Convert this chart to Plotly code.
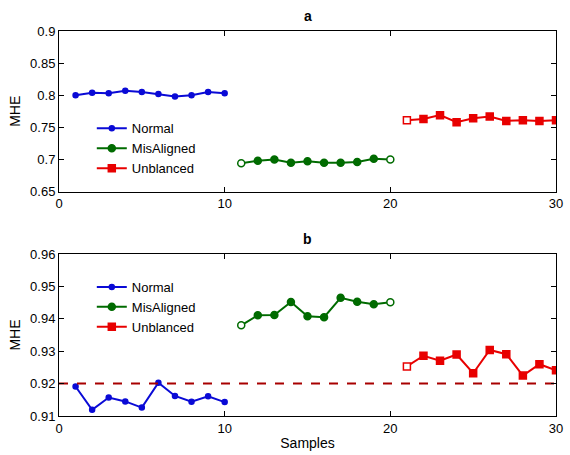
import plotly.graph_objects as go

# Sample indices for each condition
x_normal = list(range(1, 11))
x_mis = list(range(11, 21))
x_unb = list(range(21, 31))

# Panel a: MHE values
a_normal = [0.800, 0.804, 0.803, 0.807, 0.805, 0.802, 0.798, 0.800, 0.805, 0.803]
a_mis = [0.694, 0.698, 0.700, 0.695, 0.697, 0.695, 0.695, 0.696, 0.701, 0.700]
a_unb = [0.761, 0.763, 0.769, 0.758, 0.764, 0.767, 0.760, 0.761, 0.760, 0.761]

# Panel b: MHE values
b_normal = [0.9191, 0.9119, 0.9157, 0.9145, 0.9126, 0.9203, 0.9162, 0.9144, 0.9161, 0.9143]
b_mis = [0.9380, 0.9411, 0.9412, 0.9452, 0.9408, 0.9405, 0.9465, 0.9453, 0.9445, 0.9451]
b_unb = [0.9253, 0.9286, 0.9271, 0.9290, 0.9232, 0.9304, 0.9291, 0.9225, 0.9260, 0.9241]
threshold = 0.92

a_yticks = [0.65, 0.7, 0.75, 0.8, 0.85, 0.9]
a_yticktext = ["0.65", "0.7", "0.75", "0.8", "0.85", "0.9"]
b_yticks = [0.91, 0.92, 0.93, 0.94, 0.95, 0.96]
b_yticktext = ["0.91", "0.92", "0.93", "0.94", "0.95", "0.96"]
xticks = [0, 10, 20, 30]

names = ["Normal", "MisAligned", "Unblanced"]
BLUE = "#0a0ad6"
GREEN = "#006b00"
RED = "#e80000"
DARKRED = "#a80000"
FONT = "Liberation Sans, Arial, sans-serif"
LW = 2


def fills(color, n, hollow):
    return ["white" if i in hollow else color for i in range(n)]


styles = [
    (BLUE, dict(symbol="circle", size=5)),
    (GREEN, dict(symbol="circle", size=7)),
    (RED, dict(symbol="square", size=7)),
]

fig = go.Figure()

panels = [
    ("x", "y", "legend", a_normal, a_mis, a_unb),
    ("x2", "y2", "legend2", b_normal, b_mis, b_unb),
]
for xa, ya, leg, yn, ym, yu in panels:
    hollow_sets = [set(), {0, len(ym) - 1}, {0}]
    for (color, mk), xs, ys, hollow in zip(styles, [x_normal, x_mis, x_unb], [yn, ym, yu], hollow_sets):
        fig.add_trace(go.Scatter(
            x=xs, y=ys, mode="lines+markers", xaxis=xa, yaxis=ya, showlegend=False,
            line=dict(color=color, width=LW),
            marker=dict(**mk, color=fills(color, len(ys), hollow),
                        line=dict(color=color, width=1.5))))
    # Legend entries with solid markers
    for name, (color, mk) in zip(names, styles):
        fig.add_trace(go.Scatter(
            x=[None], y=[None], name=name, mode="lines+markers", xaxis=xa, yaxis=ya,
            legend=leg, line=dict(color=color, width=LW),
            marker=dict(**mk, color=color, line=dict(color=color, width=1.5))))

# Threshold line in panel b
fig.add_trace(go.Scatter(
    x=[0, 30], y=[threshold, threshold], mode="lines", xaxis="x2", yaxis="y2",
    showlegend=False, line=dict(color=DARKRED, width=2, dash="dash")))

axis_common = dict(
    showline=True, linecolor="black", linewidth=1, mirror="ticks",
    ticks="inside", ticklen=5, tickcolor="black", showgrid=False, zeroline=False,
    tickfont=dict(family=FONT, size=13, color="black"),
)

legend_common = dict(xanchor="left", yanchor="top", bgcolor="rgba(0,0,0,0)",
                     font=dict(size=13), tracegroupgap=0, itemwidth=30)

fig.update_layout(
    width=570, height=455,
    margin=dict(l=59, r=7, t=31, b=36),
    paper_bgcolor="white", plot_bgcolor="white",
    font=dict(family=FONT, size=13, color="black"),
    xaxis=dict(domain=[0, 1], range=[0, 30], tickvals=xticks, anchor="y", **axis_common),
    yaxis=dict(domain=[0.583, 1], range=[0.65, 0.9], tickvals=a_yticks, ticktext=a_yticktext,
               anchor="x", title=dict(text="MHE", font=dict(size=14), standoff=6), **axis_common),
    xaxis2=dict(domain=[0, 1], range=[0, 30], tickvals=xticks, anchor="y2",
                title=dict(text="Samples", font=dict(size=14), standoff=3), **axis_common),
    yaxis2=dict(domain=[0, 0.4205], range=[0.91, 0.96], tickvals=b_yticks, ticktext=b_yticktext,
                anchor="x2", title=dict(text="MHE", font=dict(size=14), standoff=6), **axis_common),
    legend=dict(x=0.066, y=0.786, **legend_common),
    legend2=dict(x=0.066, y=0.374, **legend_common),
    annotations=[
        dict(text="<b>a</b>", x=0.5, y=1.0, xref="paper", yref="paper", xanchor="center",
             yanchor="bottom", yshift=5, showarrow=False, font=dict(size=14)),
        dict(text="<b>b</b>", x=0.5, y=0.4205, xref="paper", yref="paper", xanchor="center",
             yanchor="bottom", yshift=5, showarrow=False, font=dict(size=14)),
    ],
)

fig.write_html("out.html")
